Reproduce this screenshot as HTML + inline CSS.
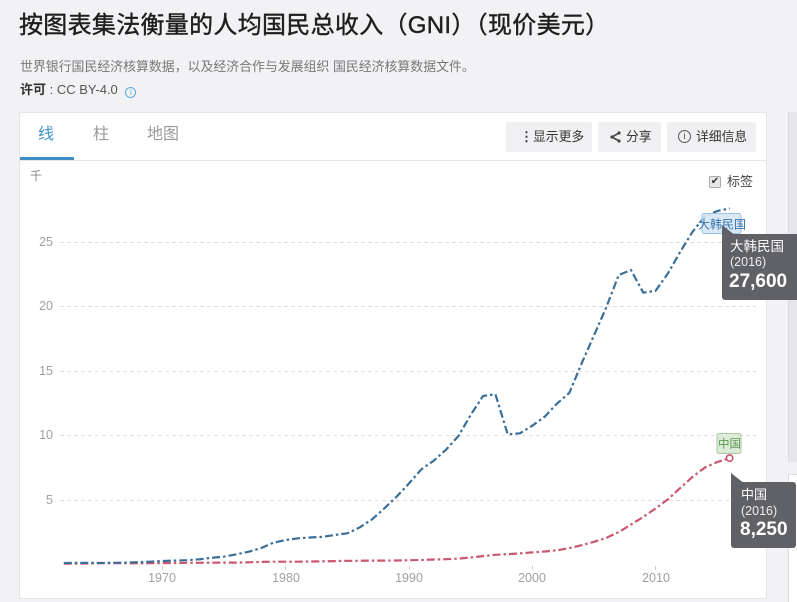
<!DOCTYPE html>
<html><head><meta charset="utf-8">
<style>
*{margin:0;padding:0;box-sizing:border-box}
html,body{width:797px;height:602px;overflow:hidden;background:#f2f2f5;font-family:"Liberation Sans","Noto Sans CJK SC",sans-serif;position:relative}
.a{position:absolute;white-space:nowrap}
.title{left:19px;top:9px;font-size:24px;color:#1e1e1e;line-height:34px;letter-spacing:0.3px;-webkit-text-stroke:0.4px #1e1e1e}
.sub{left:20px;top:59px;font-size:12.9px;color:#777;line-height:16px}
.lic{left:20px;top:82px;font-size:13px;color:#555;line-height:16px}
.card{left:19px;top:112px;width:748px;height:487px;background:#fff;border:1px solid #e6e6ea}
.tab{top:125px;font-size:16px;color:#999;line-height:20px}
.btn{top:122px;height:30px;background:#f0f0f3;border-radius:2px;font-size:12.8px;color:#333;line-height:30px}
.yl{font-size:12.5px;color:#a0a0a0;text-align:right;width:30px;left:23px;line-height:14px}
.xl{font-size:12.5px;color:#a0a0a0;line-height:14px;top:571px;width:40px;text-align:center}
.tip{background:#606167;color:#fff;border-radius:3px}
</style></head><body>
<div class="a title">按图表集法衡量的人均国民总收入（GNI）（现价美元）</div>
<div class="a sub">世界银行国民经济核算数据，以及经济合作与发展组织 国民经济核算数据文件。</div>
<div class="a lic"><b style="color:#333">许可</b> : CC BY-4.0 <span style="display:inline-block;width:11px;height:11px;border:1.3px solid #5aa9d6;border-radius:50%;color:#5aa9d6;font-size:8px;line-height:9px;text-align:center;vertical-align:-1px;margin-left:4px">i</span></div>

<!-- right side panels -->
<div class="a" style="left:788px;top:112px;width:9px;height:350px;background:#e6e6ea;border-left:1px solid #dcdce0"></div>
<div class="a" style="left:788px;top:474px;width:9px;height:128px;background:#fff;border-left:1px solid #dcdce0;border-top:1px solid #dcdce0"></div>

<div class="a card"></div>
<div class="a" style="left:20px;top:160px;width:746px;height:1px;background:#e6e6e8"></div>
<div class="a" style="left:20px;top:157px;width:54px;height:3px;background:#3f8fc4"></div>
<div class="a tab" style="left:38px;color:#3f93c6">线</div>
<div class="a tab" style="left:93px">柱</div>
<div class="a tab" style="left:147px">地图</div>

<div class="a btn" style="left:506px;width:86px;"><span style="position:absolute;left:14px;font-weight:bold">⋮</span><span style="position:absolute;left:27px">显示更多</span></div>
<div class="a btn" style="left:598px;width:63px;"><svg style="position:absolute;left:11px;top:9px" width="12" height="12" viewBox="0 0 12 12"><path d="M10 2 L3 6 L10 10" stroke="#444" stroke-width="1.6" fill="none"/><circle cx="10" cy="2" r="1.6" fill="#444"/><circle cx="3" cy="6" r="1.6" fill="#444"/><circle cx="10" cy="10" r="1.6" fill="#444"/></svg><span style="position:absolute;left:28px">分享</span></div>
<div class="a btn" style="left:667px;width:89px;"><span style="position:absolute;left:11px;top:8px;width:13px;height:13px;border:1.3px solid #555;border-radius:50%;font-size:9px;line-height:10px;text-align:center;color:#444">i</span><span style="position:absolute;left:29px">详细信息</span></div>

<div class="a" style="left:709px;top:176px;width:12px;height:12px;border:1px solid #aaa;background:#e8e8e8;border-radius:2px;font-size:10px;line-height:10px;text-align:center;color:#333">✔</div>
<div class="a" style="left:727px;top:174px;font-size:13px;color:#444;line-height:16px">标签</div>

<div class="a" style="left:30px;top:167px;font-size:12px;color:#888">千</div>
<div class="a yl" style="top:235px">25</div>
<div class="a yl" style="top:299px">20</div>
<div class="a yl" style="top:364px">15</div>
<div class="a yl" style="top:428px">10</div>
<div class="a yl" style="top:493px">5</div>

<div class="a xl" style="left:142px">1970</div>
<div class="a xl" style="left:266px">1980</div>
<div class="a xl" style="left:389px">1990</div>
<div class="a xl" style="left:512px">2000</div>
<div class="a xl" style="left:636px">2010</div>

<svg class="a" style="left:0;top:0" width="797" height="602" viewBox="0 0 797 602">
<g stroke="#dedede" stroke-width="1" stroke-dasharray="4,3">
<line x1="60" y1="242.5" x2="756" y2="242.5"/>
<line x1="60" y1="306.5" x2="756" y2="306.5"/>
<line x1="60" y1="371.5" x2="756" y2="371.5"/>
<line x1="60" y1="435.5" x2="756" y2="435.5"/>
<line x1="60" y1="500.5" x2="756" y2="500.5"/>
</g>
<g stroke="#ccc" stroke-width="1">
<line x1="162.5" y1="566" x2="162.5" y2="570"/>
<line x1="285.5" y1="566" x2="285.5" y2="570"/>
<line x1="409.5" y1="566" x2="409.5" y2="570"/>
<line x1="532.5" y1="566" x2="532.5" y2="570"/>
<line x1="655.5" y1="566" x2="655.5" y2="570"/>
</g>
<polyline fill="none" stroke="#c9576f" stroke-width="2.2" stroke-dasharray="8,3,2.5,3" stroke-linejoin="round" points="63.8,563.6 76.1,563.6 88.5,563.5 100.8,563.2 113.1,563.1 125.5,563.2 137.8,563.3 150.1,563.2 162.4,563.1 174.8,563.0 187.1,562.8 199.4,562.8 211.8,562.7 224.1,562.6 236.4,562.6 248.8,562.3 261.1,561.9 273.4,561.7 285.7,561.7 298.1,561.7 310.4,561.5 322.7,561.3 335.1,561.1 347.4,560.8 359.7,560.8 372.1,560.6 384.4,560.6 396.7,560.5 409.0,560.2 421.4,560.0 433.7,559.5 446.0,559.2 458.4,558.6 470.7,557.5 483.0,556.1 495.4,554.8 507.7,554.2 520.0,553.4 532.3,552.4 544.7,551.5 557.0,550.3 569.3,548.1 581.7,545.2 594.0,541.8 606.3,537.9 618.7,532.1 631.0,524.5 643.3,516.9 655.6,508.5 668.0,499.2 680.3,487.9 692.6,476.8 705.0,467.5 717.3,462.0 729.6,458.1"/>
<polyline fill="none" stroke="#3b6f98" stroke-width="2.2" stroke-dasharray="8,3,2.5,3" stroke-linejoin="round" points="63.8,563.1 76.1,562.8 88.5,562.8 100.8,563.0 113.1,562.8 125.5,562.6 137.8,562.2 150.1,561.7 162.4,561.0 174.8,560.6 187.1,560.2 199.4,559.3 211.8,557.8 224.1,556.6 236.4,554.3 248.8,551.7 261.1,548.1 273.4,542.7 285.7,540.0 298.1,538.3 310.4,537.5 322.7,536.8 335.1,535.0 347.4,533.3 359.7,527.4 372.1,519.3 384.4,508.3 396.7,496.6 409.0,483.4 421.4,469.3 433.7,460.7 446.0,449.7 458.4,436.0 470.7,414.9 483.0,396.0 495.4,394.2 507.7,434.3 520.0,433.3 532.3,425.7 544.7,416.7 557.0,403.6 569.3,392.9 581.7,363.3 594.0,335.3 606.3,307.3 618.7,275.0 631.0,270.0 643.3,292.7 655.6,290.8 668.0,273.3 680.3,251.7 692.6,231.7 705.0,216.2 717.3,211.0 729.6,208.5"/>
<circle cx="729.6" cy="458.1" r="3.2" fill="#fff" stroke="#c9576f" stroke-width="1.6"/>
<!-- labels -->
<rect x="702" y="213.5" width="39" height="20" rx="2" fill="#d5e6f5" fill-opacity="0.9" stroke="#9cc2e2" stroke-width="1"/>
<text x="698" y="228.5" font-size="12" fill="#3a78ac" font-family="Liberation Sans, Noto Sans CJK SC, sans-serif">大韩民国</text>
<rect x="717" y="433.5" width="24" height="20" rx="2" fill="#dcebd8" stroke="#a8cc9f" stroke-width="1"/>
<text x="718" y="447.5" font-size="11.5" fill="#5e9a52" font-family="Liberation Sans, Noto Sans CJK SC, sans-serif">中国</text>
<!-- tooltip arrows -->
<polygon points="722,225 722,236 736,236" fill="#606167"/>
<polygon points="731,473 731,484 745,484" fill="#606167"/>
</svg>

<div class="a tip" style="left:722px;top:234px;width:78px;height:66px;"></div>
<div class="a" style="left:730px;top:238px;font-size:13.5px;color:#fff;line-height:18px">大韩民国</div>
<div class="a" style="left:730px;top:254px;font-size:12.5px;color:#eee;line-height:16px">(2016)</div>
<div class="a" style="left:729px;top:271px;font-size:19px;font-weight:bold;color:#fff;line-height:22px">27,600</div>

<div class="a tip" style="left:731px;top:482px;width:65px;height:66px;"></div>
<div class="a" style="left:741px;top:486px;font-size:13px;color:#fff;line-height:18px">中国</div>
<div class="a" style="left:741px;top:503px;font-size:12.5px;color:#eee;line-height:16px">(2016)</div>
<div class="a" style="left:740px;top:519px;font-size:19px;font-weight:bold;color:#fff;line-height:22px">8,250</div>
</body></html>
